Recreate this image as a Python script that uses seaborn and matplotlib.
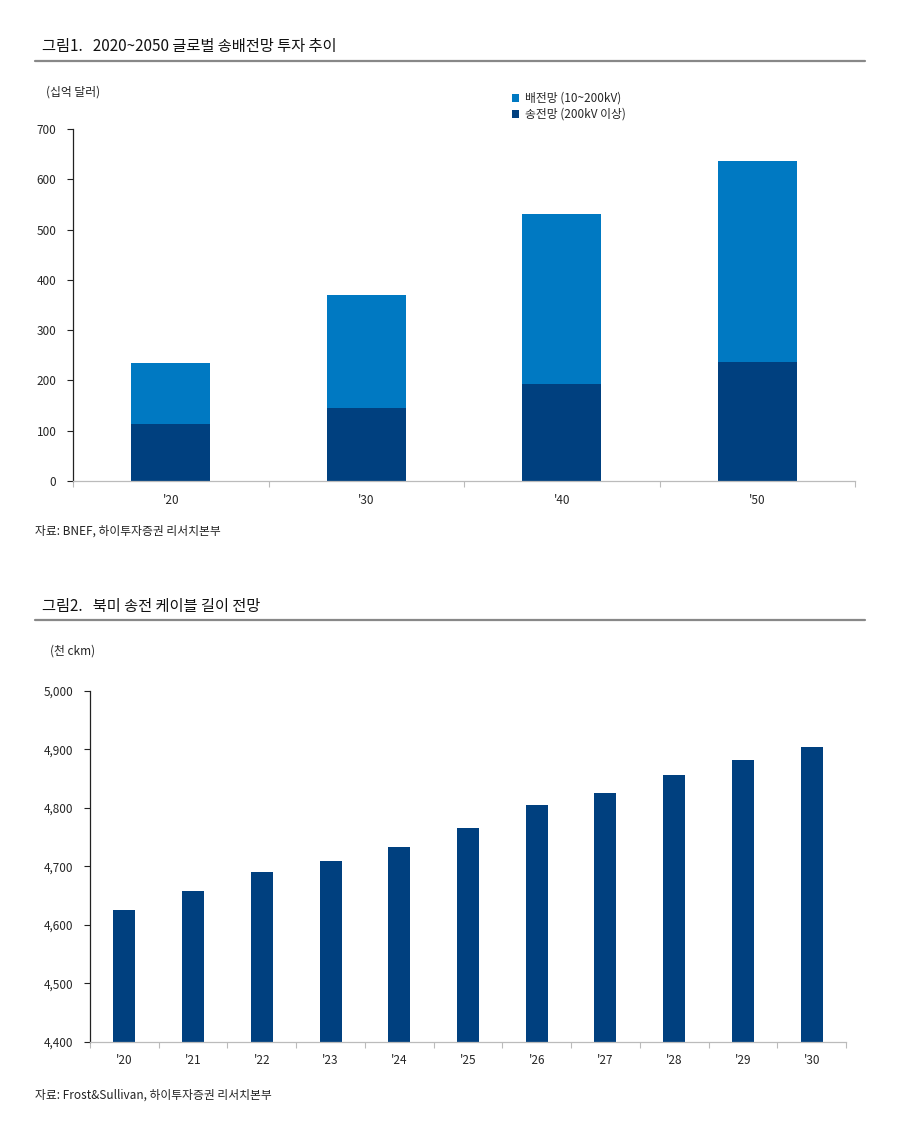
import matplotlib
matplotlib.use("Agg")
import matplotlib.pyplot as plt
import seaborn as sns
import pandas as pd
import numpy as np
from matplotlib.patches import Patch
from matplotlib.lines import Line2D

sns.set_theme(style="white")
plt.rcParams['font.family'] = ['Noto Sans CJK KR', 'DejaVu Sans']

# Chart 1 data (십억 달러)
years1 = ["'20", "'30", "'40", "'50"]
transmission = [113, 145, 193, 237]      # 송전망 (200kV 이상)
distribution = [122, 225, 338, 399]      # 배전망 (10~200kV)
yticks1 = [0, 100, 200, 300, 400, 500, 600, 700]

# Chart 2 data (천 ckm)
years2 = ["'20", "'21", "'22", "'23", "'24", "'25", "'26", "'27", "'28", "'29", "'30"]
cable = [4626, 4658, 4691, 4709, 4733, 4766, 4805, 4826, 4856, 4882, 4904]
yticks2 = [4400, 4500, 4600, 4700, 4800, 4900, 5000]

LIGHT = "#0079C2"
DARK = "#00407F"
W, H = 900, 1143
fig = plt.figure(figsize=(W/100, H/100), dpi=100)

def fx(px): return px / W
def fy(py): return 1 - py / H

def header(title, ytitle, yline):
    fig.text(fx(42), fy(ytitle), title, fontsize=11, va='center', ha='left', color='#111111')
    fig.add_artist(Line2D([fx(35), fx(865)], [fy(yline), fy(yline)], color='#888888', lw=1.6))

def style_axes(ax, ncat):
    for s in ['top', 'right']:
        ax.spines[s].set_visible(False)
    ax.spines['left'].set_color('#222222')
    ax.spines['left'].set_linewidth(0.9)
    ax.spines['bottom'].set_color('#BBBBBB')
    ax.spines['bottom'].set_linewidth(0.9)
    ax.tick_params(axis='y', length=4, width=0.8, color='#222222', labelsize=8.5, pad=8, left=True, direction='out')
    ax.tick_params(axis='x', length=0, labelsize=8.5, pad=9)
    ax.set_xticks(np.arange(-0.5, ncat, 1.0), minor=True)
    ax.tick_params(axis='x', which='minor', length=4, width=0.8, color='#BBBBBB', bottom=True, direction='out')
    ax.set_xlabel('')
    ax.set_ylabel('')
    ax.set_xlim(-0.5, ncat - 0.5)

# ---- Chart 1 ----
header("그림1.   2020~2050 글로벌 송배전망 투자 추이", 47, 61)
fig.text(fx(46), fy(92), "(십억 달러)", fontsize=8.5, va='center', ha='left', color='#222222')
ax1 = fig.add_axes([fx(73), fy(481), fx(855) - fx(73), fy(129) - fy(481)])
df1 = pd.DataFrame({'year': years1,
                    'total': np.array(transmission) + np.array(distribution),
                    'trans': transmission})
sns.barplot(data=df1, x='year', y='total', color=LIGHT, saturation=1, width=0.405, linewidth=0, ax=ax1)
sns.barplot(data=df1, x='year', y='trans', color=DARK, saturation=1, width=0.405, linewidth=0, ax=ax1)
ax1.set_ylim(0, 700)
ax1.set_yticks(yticks1)
ax1.set_yticklabels([f"{v}" for v in yticks1])
style_axes(ax1, len(years1))
handles = [Patch(facecolor=LIGHT, edgecolor='none', label="배전망 (10~200kV)"),
           Patch(facecolor=DARK, edgecolor='none', label="송전망 (200kV 이상)")]
fig.legend(handles=handles, loc='upper left', bbox_to_anchor=(fx(512), fy(92)),
           frameon=False, fontsize=8.5, handlelength=0.6, handleheight=0.6,
           handletextpad=0.5, labelspacing=0.25, borderaxespad=0, borderpad=0)
fig.text(fx(35), fy(531), "자료: BNEF, 하이투자증권 리서치본부", fontsize=8.5, va='center', ha='left', color='#222222')

# ---- Chart 2 ----
header("그림2.   북미 송전 케이블 길이 전망", 606, 620)
fig.text(fx(50), fy(651), "(천 ckm)", fontsize=8.5, va='center', ha='left', color='#222222')
ax2 = fig.add_axes([fx(90), fy(1042), fx(846) - fx(90), fy(691) - fy(1042)])
df2 = pd.DataFrame({'year': years2, 'value': cable})
sns.barplot(data=df2, x='year', y='value', color=DARK, saturation=1, width=0.32, linewidth=0, ax=ax2)
ax2.set_ylim(4400, 5000)
ax2.set_yticks(yticks2)
ax2.set_yticklabels([f"{v:,}" for v in yticks2])
style_axes(ax2, len(years2))
fig.text(fx(35), fy(1095), "자료: Frost&Sullivan, 하이투자증권 리서치본부", fontsize=8.5, va='center', ha='left', color='#222222')

fig.savefig("out.png", dpi=100, facecolor='white')
